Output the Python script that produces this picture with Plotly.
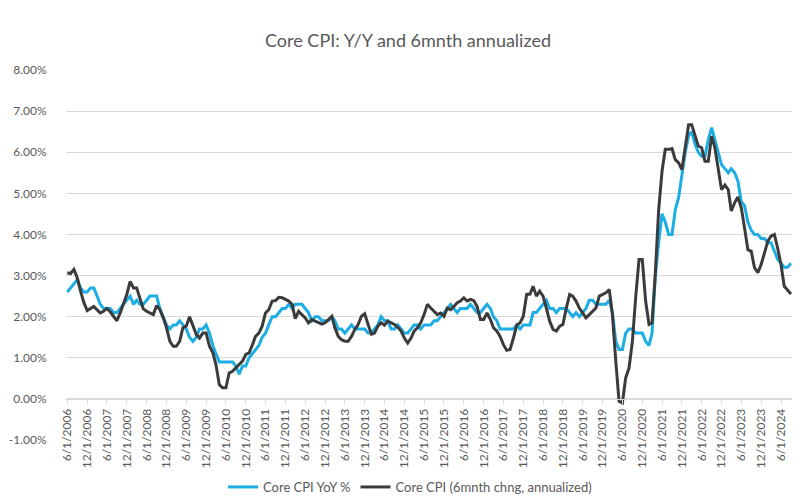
import pandas as pd
import plotly.graph_objects as go

start_month = "2006-06-01"

core_yoy = [
    2.6, 2.7, 2.8, 2.9, 2.7, 2.6, 2.6,
    2.7, 2.7, 2.5, 2.3, 2.2, 2.2, 2.2, 2.1, 2.1, 2.2, 2.3, 2.4,
    2.5, 2.3, 2.4, 2.3, 2.3, 2.4, 2.5, 2.5, 2.5, 2.2, 2.0, 1.8,
    1.7, 1.8, 1.8, 1.9, 1.8, 1.7, 1.5, 1.4, 1.5, 1.7, 1.7, 1.8,
    1.6, 1.3, 1.1, 0.9, 0.9, 0.9, 0.9, 0.9, 0.8, 0.6, 0.8, 0.8,
    1.0, 1.1, 1.2, 1.3, 1.5, 1.6, 1.8, 2.0, 2.0, 2.1, 2.2, 2.2,
    2.3, 2.2, 2.3, 2.3, 2.3, 2.2, 2.1, 1.9, 2.0, 2.0, 1.9, 1.9,
    1.9, 2.0, 1.9, 1.7, 1.7, 1.6, 1.7, 1.8, 1.7, 1.7, 1.7, 1.7,
    1.6, 1.6, 1.7, 1.8, 2.0, 1.9, 1.9, 1.7, 1.7, 1.8, 1.7, 1.6,
    1.6, 1.7, 1.8, 1.8, 1.7, 1.8, 1.8, 1.8, 1.9, 1.9, 2.0, 2.1,
    2.2, 2.3, 2.2, 2.1, 2.2, 2.2, 2.2, 2.3, 2.2, 2.1, 2.1, 2.2,
    2.3, 2.2, 2.0, 1.9, 1.7, 1.7, 1.7, 1.7, 1.7, 1.8, 1.7, 1.8,
    1.8, 1.8, 2.1, 2.1, 2.2, 2.3, 2.4, 2.2, 2.2, 2.1, 2.2, 2.2,
    2.2, 2.1, 2.0, 2.1, 2.0, 2.1, 2.2, 2.4, 2.4, 2.3, 2.3, 2.3,
    2.3, 2.4, 2.1, 1.4, 1.2, 1.2, 1.6, 1.7, 1.7, 1.6, 1.6, 1.6,
    1.4, 1.3, 1.6, 3.0, 3.8, 4.5, 4.3, 4.0, 4.0, 4.6, 4.9, 5.5,
    6.0, 6.4, 6.5, 6.2, 6.0, 5.9, 5.9, 6.3, 6.6, 6.3, 6.0, 5.7,
    5.6, 5.5, 5.6, 5.5, 5.3, 4.8, 4.7, 4.3, 4.1, 4.0, 4.0, 3.9,
    3.9, 3.8, 3.8, 3.6, 3.4, 3.3, 3.2, 3.2, 3.3,
]

core_6m_ann = [
    3.07, 3.05, 3.15, 2.94, 2.62, 2.34, 2.15, 2.21, 2.25, 2.17,
    2.09, 2.13, 2.20, 2.12, 2.01, 1.90, 2.09, 2.34, 2.54, 2.86,
    2.70, 2.70, 2.42, 2.19, 2.13, 2.09, 2.05, 2.27, 2.17, 1.97,
    1.73, 1.40, 1.28, 1.28, 1.40, 1.73, 1.77, 2.00, 1.77, 1.57,
    1.48, 1.60, 1.60, 1.28, 1.12, 0.84, 0.35, 0.27, 0.27, 0.63,
    0.67, 0.75, 0.84, 0.92, 1.08, 1.12, 1.32, 1.52, 1.60, 1.77,
    2.09, 2.17, 2.38, 2.39, 2.47, 2.46, 2.42, 2.38, 2.30, 1.95,
    2.13, 2.05, 1.97, 1.85, 1.93, 1.89, 1.85, 1.82, 1.85, 1.93,
    2.01, 1.73, 1.52, 1.44, 1.40, 1.40, 1.52, 1.69, 1.81, 2.01,
    2.07, 1.81, 1.57, 1.60, 1.77, 1.85, 1.79, 1.89, 1.85, 1.81,
    1.74, 1.65, 1.48, 1.36, 1.48, 1.65, 1.73, 1.85, 2.05, 2.30,
    2.21, 2.13, 2.05, 2.09, 2.01, 2.21, 2.17, 2.25, 2.34, 2.38,
    2.46, 2.38, 2.42, 2.39, 2.25, 1.93, 1.93, 2.09, 1.93, 1.73,
    1.65, 1.52, 1.32, 1.18, 1.20, 1.48, 1.79, 1.85, 2.01, 2.54,
    2.55, 2.74, 2.50, 2.62, 2.50, 2.21, 1.89, 1.69, 1.65, 1.77,
    1.81, 2.21, 2.54, 2.50, 2.38, 2.21, 2.09, 1.97, 2.05, 2.13,
    2.21, 2.50, 2.54, 2.58, 2.66, 2.05, 0.92, -0.06, -0.10, 0.51,
    0.75, 1.40, 2.46, 3.39, 3.39, 2.38, 1.81, 1.85, 3.10, 4.60,
    5.54, 6.07, 6.07, 6.09, 5.82, 5.74, 5.58, 6.11, 6.67, 6.67,
    6.39, 6.15, 6.11, 5.78, 5.78, 6.39, 6.11, 5.62, 5.09, 5.20,
    5.09, 4.57, 4.77, 4.91, 4.65, 4.16, 3.63, 3.59, 3.19, 3.07,
    3.27, 3.55, 3.84, 3.96, 4.00, 3.67, 3.27, 2.74, 2.64, 2.55,
]

x_tick_labels = []
for yr in range(2006, 2025):
    x_tick_labels.append(f"6/1/{yr}")
    if yr < 2024:
        x_tick_labels.append(f"12/1/{yr}")

y_tick_values = [-1, 0, 1, 2, 3, 4, 5, 6, 7, 8]
y_tick_labels = ["-1.00%", "0.00%", "1.00%", "2.00%", "3.00%", "4.00%",
                 "5.00%", "6.00%", "7.00%", "8.00%"]

series_names = ["Core CPI YoY %", "Core CPI (6mnth chng, annualized)"]
title_text = "Core CPI: Y/Y and 6mnth annualized"

dates = pd.date_range(start_month, periods=len(core_yoy), freq="MS")
dates6 = pd.date_range(start_month, periods=len(core_6m_ann), freq="MS")
tick_dates = pd.to_datetime(x_tick_labels, format="%m/%d/%Y")

FONT = "Lato"
GRAY = "#595959"
GRID = "#d9d9d9"

ymin, ymax = -1, 8

fig = go.Figure()
fig.add_trace(go.Scatter(x=dates, y=core_yoy, mode="lines", name=series_names[0],
                         line=dict(color="#1cade4", width=3)))
fig.add_trace(go.Scatter(x=dates6, y=core_6m_ann, mode="lines", name=series_names[1],
                         line=dict(color="#3b3b3b", width=3)))

fig.update_layout(
    width=800, height=504,
    margin=dict(l=58, r=13, t=62, b=72, autoexpand=False),
    paper_bgcolor="white", plot_bgcolor="white",
    font=dict(family=FONT, color=GRAY, size=12),
    title=dict(text=title_text, x=0.5, xanchor="center", y=1 - 33 / 504, yanchor="middle",
               font=dict(size=18, color=GRAY, family=FONT)),
    showlegend=True,
    legend=dict(orientation="h", x=(402 - 58) / 729, xanchor="center",
                y=(432 - 479) / 370, yanchor="middle",
                font=dict(size=13, color=GRAY), itemwidth=30, bgcolor="rgba(0,0,0,0)"),
    xaxis=dict(
        type="date",
        range=[pd.Timestamp("2006-05-20"), pd.Timestamp("2024-10-08")],
        tickvals=tick_dates, ticktext=x_tick_labels, tickangle=-90,
        tickfont=dict(size=12, color=GRAY),
        showgrid=False, showline=True, linecolor=GRID, linewidth=1,
        ticks="outside", ticklen=4, tickcolor=GRID,
        anchor="free", position=(0 - ymin) / (ymax - ymin),
        automargin=False, zeroline=False,
    ),
    yaxis=dict(
        range=[ymin, ymax], tickvals=y_tick_values, ticktext=y_tick_labels,
        showgrid=True, gridcolor=GRID, gridwidth=1, zeroline=False,
        showline=False, tickfont=dict(size=12, color=GRAY),
        ticks="outside", ticklen=10, tickcolor="rgba(0,0,0,0)",
        ticklabelstandoff=6, automargin=False,
    ),
)

fig.write_html("out.html")
